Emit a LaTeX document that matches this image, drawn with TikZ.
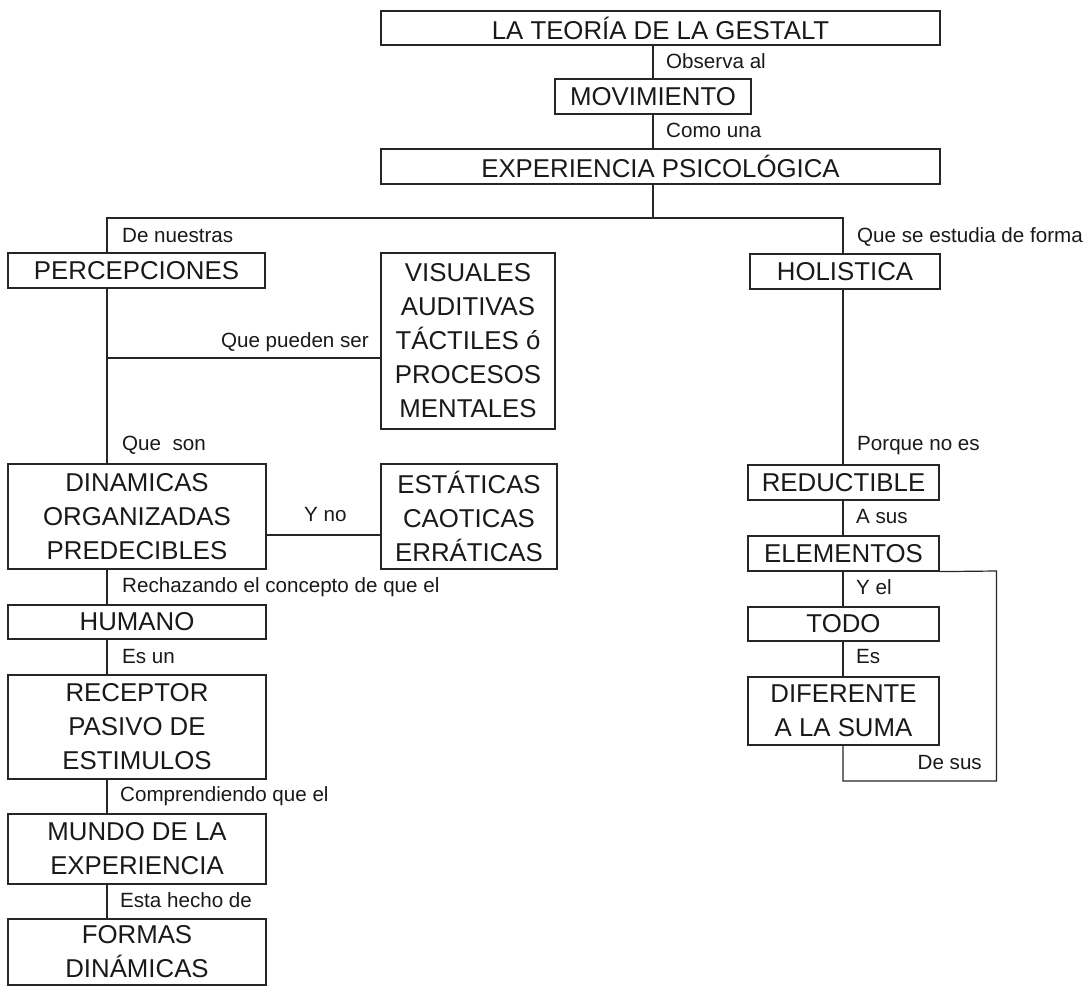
\documentclass[tikz,border=0pt]{standalone}
\usepackage{fontspec}
\setmainfont{Liberation Sans}
\begin{document}
\begin{tikzpicture}[x=1pt,y=-1pt,
  concept/.style={draw=black!85, line width=1.2pt, inner sep=0pt, align=center,
    font=\fontsize{25.8}{34}\selectfont, text=black!90},
  linklabel/.style={inner sep=0pt, font=\fontsize{20.6}{24}\selectfont, text=black!90},
  conn/.style={draw=black!85, line width=1.2pt}]
\useasboundingbox (0,0) rectangle (1086,987);

% nodes
\node[concept, minimum width=559pt, minimum height=34pt] (teoria) at (660.5,28) {LA TEORÍA DE LA GESTALT};
\node[concept, minimum width=196pt, minimum height=35pt] (mov) at (653,96.5) {MOVIMIENTO};
\node[concept, minimum width=559pt, minimum height=35pt] (exp) at (660.5,166.5) {EXPERIENCIA PSICOLÓGICA};
\node[concept, minimum width=257pt, minimum height=35pt] (perc) at (136.5,270.5) {PERCEPCIONES};
\node[concept, minimum width=174pt, minimum height=176pt] (vis) at (468,341) {VISUALES\\AUDITIVAS\\TÁCTILES ó\\PROCESOS\\MENTALES};
\node[concept, minimum width=190pt, minimum height=35pt] (hol) at (845,271.5) {HOLISTICA};
\node[concept, minimum width=258pt, minimum height=105pt] (din) at (137,516.5) {DINAMICAS\\ORGANIZADAS\\PREDECIBLES};
\node[concept, minimum width=176pt, minimum height=105pt] (est) at (469,516.5) {ESTÁTICAS\\CAOTICAS\\ERRÁTICAS};
\node[concept, minimum width=258pt, minimum height=34pt] (hum) at (137,622) {HUMANO};
\node[concept, minimum width=258pt, minimum height=104pt] (rec) at (137,727) {RECEPTOR\\PASIVO DE\\ESTIMULOS};
\node[concept, minimum width=258pt, minimum height=70pt] (mun) at (137,849) {MUNDO DE LA\\EXPERIENCIA};
\node[concept, minimum width=258pt, minimum height=66pt] (for) at (137,952) {FORMAS\\DINÁMICAS};
\node[concept, minimum width=191pt, minimum height=35pt] (red) at (843.5,482.5) {REDUCTIBLE};
\node[concept, minimum width=191pt, minimum height=35pt] (ele) at (843.5,553.5) {ELEMENTOS};
\node[concept, minimum width=191pt, minimum height=34pt] (todo) at (843.5,624) {TODO};
\node[concept, minimum width=191pt, minimum height=68pt] (dif) at (843.5,711) {DIFERENTE\\A LA SUMA};

% junction coordinates
\coordinate (split) at (653,218);
\coordinate (bl) at (107,218);
\coordinate (br) at (843,218);
\coordinate (jv) at (107,358);
\coordinate (jd) at (266,535);
\coordinate (lc1) at (996.5,571);
\coordinate (lc2) at (996.5,781);
\coordinate (lc3) at (843,781);

% connectors
\draw[conn] (teoria.south -| mov) -- (mov.north);
\draw[conn] (mov.south) -- (mov.south |- exp.north);
\draw[conn] (exp.south -| split) -- (split);
\draw[conn] (perc.north -| bl) -- (bl) -- (br) -- (hol.north -| br);
\draw[conn] (perc.south -| bl) -- (din.north -| bl);
\draw[conn] (jv) -- (vis.west |- jv);
\draw[conn] (din.east |- jd) -- (est.west |- jd);
\draw[conn] (din.south -| bl) -- (hum.north -| bl);
\draw[conn] (hum.south -| bl) -- (rec.north -| bl);
\draw[conn] (rec.south -| bl) -- (mun.north -| bl);
\draw[conn] (mun.south -| bl) -- (for.north -| bl);
\draw[conn] (hol.south -| br) -- (red.north -| br);
\draw[conn] (red.south -| br) -- (ele.north -| br);
\draw[conn] (ele.south -| br) -- (todo.north -| br);
\draw[conn] (todo.south -| br) -- (dif.north -| br);
\draw[conn] (ele.south east) -- (lc1) -- (lc2) -- (lc3) -- (dif.south -| lc3);

% link labels
\node[linklabel, anchor=west] (l1) at (666,61) {Observa al};
\node[linklabel, anchor=west] (l2) at (666,130) {Como una};
\node[linklabel, anchor=west] (l3) at (122,236) {De nuestras};
\node[linklabel, anchor=west] (l4) at (857,237) {Que se estudia de forma};
\node[linklabel, anchor=east] (l5) at (369,342) {Que pueden ser};
\node[linklabel, anchor=west] (l6) at (122,445) {Que~ son};
\node[linklabel, anchor=west] (l7) at (304,515) {Y no};
\node[linklabel, anchor=west] (l8) at (122,587) {Rechazando el concepto de que el};
\node[linklabel, anchor=west] (l9) at (122,657) {Es un};
\node[linklabel, anchor=west] (l10) at (120,796) {Comprendiendo que el};
\node[linklabel, anchor=west] (l11) at (120,900) {Esta hecho de};
\node[linklabel, anchor=west] (l12) at (857,446) {Porque no es};
\node[linklabel, anchor=west] (l13) at (856,517) {A sus};
\node[linklabel, anchor=west] (l14) at (856,587) {Y el};
\node[linklabel, anchor=west] (l15) at (856,657) {Es};
\node[linklabel, anchor=east] (l16) at (982,763) {De sus};
\end{tikzpicture}
\end{document}
